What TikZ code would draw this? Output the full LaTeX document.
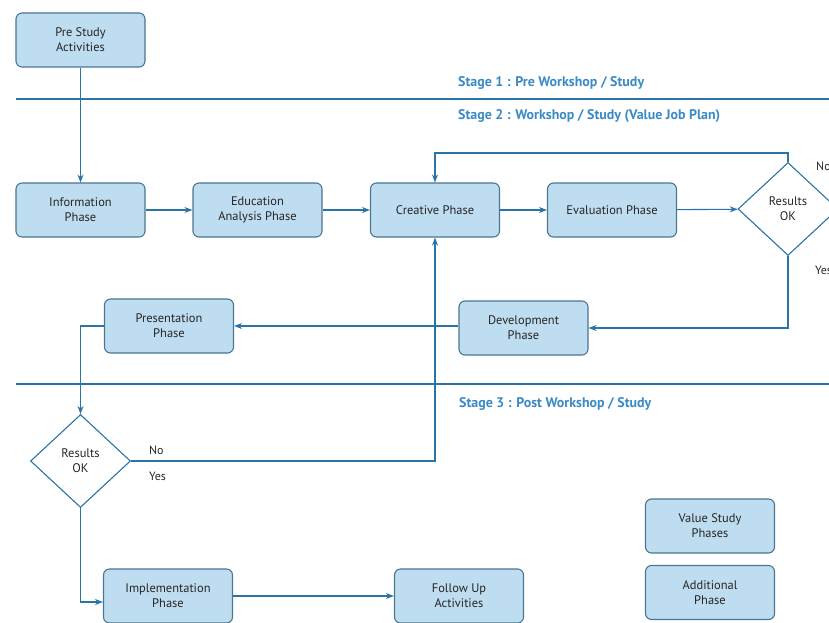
\documentclass[tikz,border=0pt]{standalone}
\usepackage{fontspec}
\setmainfont{PT Sans}
\usetikzlibrary{shapes.geometric,arrows.meta}
\definecolor{boxfill}{HTML}{BFDDF0}
\definecolor{boxline}{HTML}{4A7690}
\definecolor{flow}{HTML}{2B74A6}
\definecolor{stagec}{HTML}{3A8AC4}
\tikzset{
  phase/.style={draw=boxline, line width=1.1bp, fill=boxfill, rounded corners=6bp,
    minimum width=129bp, minimum height=54bp, align=center, inner sep=2bp,
    font=\fontsize{12.5}{15}\selectfont, text=black!85},
  decide/.style={draw=flow, line width=1.1bp, fill=white, diamond, aspect=1.08,
    minimum width=100bp, minimum height=93bp, inner sep=0pt, align=center,
    font=\fontsize{12.5}{15}\selectfont, text=black!85},
  conn/.style={draw=flow, line width=1.1bp},
  arr/.style={conn, -{Stealth[length=8bp,width=6bp]}},
  sep/.style={draw=flow, line width=1.1bp},
  stage/.style={anchor=west, text=stagec, font=\bfseries\fontsize{14}{16}\selectfont, inner sep=0pt},
  lbl/.style={anchor=west, inner sep=0pt, font=\fontsize{12}{14}\selectfont, text=black!85}
}
\begin{document}
\begin{tikzpicture}[x=1bp,y=-1bp]
\useasboundingbox (0,0) rectangle (829,623);
% separators
\coordinate (s1a) at (16,99); \coordinate (s1b) at (829,99);
\coordinate (s2a) at (16,384); \coordinate (s2b) at (829,384);
\draw[sep] (s1a) -- (s1b);
\draw[sep] (s2a) -- (s2b);
\node[stage] (st1) at (458,83) {Stage 1 : Pre Workshop / Study};
\node[stage] (st2) at (458,116) {Stage 2 : Workshop / Study (Value Job Plan)};
\node[stage] (st3) at (459,404) {Stage 3 : Post Workshop / Study};
% nodes
\node[phase] (pre) at (80.5,40) {Pre Study\\Activities};
\node[phase] (info) at (80.5,210) {Information\\Phase};
\node[phase] (edu) at (257.5,210) {Education\\Analysis Phase};
\node[phase] (cre) at (435,210) {Creative Phase};
\node[phase] (eva) at (612,210) {Evaluation Phase};
\node[decide] (d1) at (788,209) {Results\\OK};
\node[phase] (dev) at (523.5,328) {Development\\Phase};
\node[phase] (pres) at (169,326) {Presentation\\Phase};
\node[decide] (d2) at (80.5,461) {Results\\OK};
\node[phase] (impl) at (168,596) {Implementation\\Phase};
\node[phase] (fol) at (459,596) {Follow Up\\Activities};
\node[phase] (vsp) at (710,526) {Value Study\\Phases};
\node[phase] (add) at (710,592.5) {Additional\\Phase};
% labels
\node[lbl] (no1) at (816,166) {No};
\node[lbl] (yes1) at (815,270) {Yes};
\node[lbl] (no2) at (149,450) {No};
\node[lbl] (yes2) at (149,476) {Yes};
% connectors
\draw[arr] (pre) -- (info);
\draw[arr] (info) -- (edu);
\draw[arr] (edu) -- (cre);
\draw[arr] (cre) -- (eva);
\draw[arr] (eva) -- (d1);
\coordinate (fb) at (788,153);
\draw[arr] (d1.north) -- (fb) -| (cre.north);
\draw[arr] (d1.south) |- (dev.east);
\draw[arr] (dev.west |- pres.east) -- (pres.east);
\draw[arr] (pres.west) -| (d2.north);
\draw[arr] (d2.east) -| (cre.south);
\draw[arr] (d2.south) |- ([yshift=-6bp]impl.west);
\draw[arr] (impl) -- (fol);
\end{tikzpicture}
\end{document}
